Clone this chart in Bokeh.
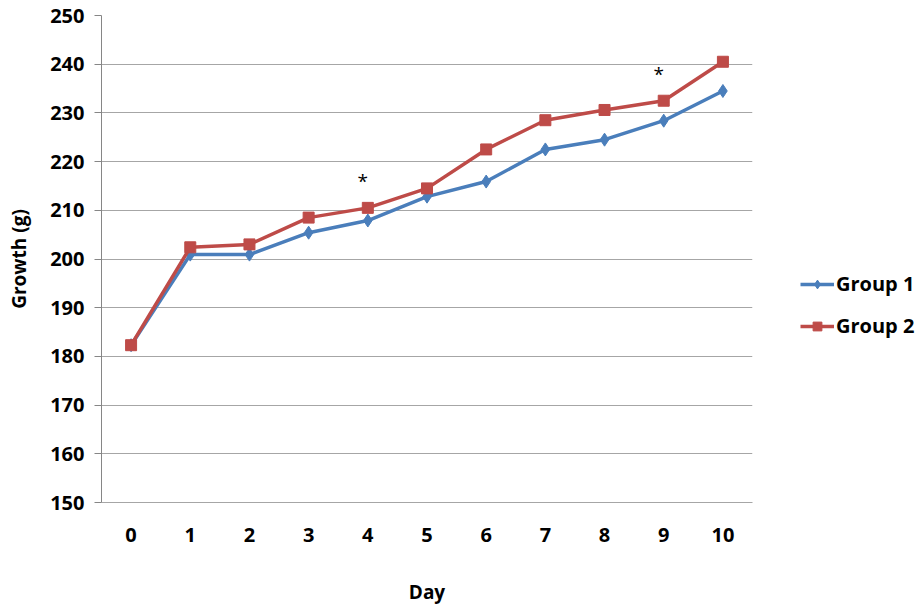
from bokeh.plotting import figure
from bokeh.models import ColumnDataSource, Legend, LegendItem, SingleIntervalTicker, FactorRange
from bokeh.core.properties import value
from bokeh.embed import file_html
from bokeh.resources import INLINE

days = ["0", "1", "2", "3", "4", "5", "6", "7", "8", "9", "10"]
group1 = [182.3, 200.9, 200.9, 205.4, 207.9, 212.8, 215.9, 222.5, 224.5, 228.4, 234.5]
group2 = [182.3, 202.4, 203.0, 208.5, 210.5, 214.5, 222.5, 228.5, 230.6, 232.5, 240.5]
sig_days = ["4", "9"]
sig_mark = ["*", "*"]

FONT = "Open Sans"
GRID = "#a6a6a6"
BLUE = "#4A7EBB"
RED = "#BE4B48"

p = figure(frame_width=651, frame_height=487, x_range=FactorRange(*days), y_range=(150, 250),
           output_backend="svg", toolbar_location=None,
           min_border_left=101, min_border_right=0, min_border_top=15, min_border_bottom=107)
p.outline_line_color = None
p.background_fill_color = "white"
p.border_fill_color = "white"

src = ColumnDataSource(dict(day=days, g1=group1, g2=group2))
l1 = p.line("day", "g1", source=src, color=BLUE, line_width=3.5)
m1 = p.scatter("day", "g1", source=src, marker="diamond", size=13, color=BLUE)
l2 = p.line("day", "g2", source=src, color=RED, line_width=3.5)
m2 = p.scatter("day", "g2", source=src, marker="square", size=11, color=RED)

g2_lookup = dict(zip(days, group2))
sig_src = ColumnDataSource(dict(day=sig_days, y=[g2_lookup[d] for d in sig_days], t=sig_mark))
p.text("day", "y", text="t", source=sig_src, x_offset=-5, y_offset=-27,
       text_align="center", text_baseline="middle", text_font=value(FONT),
       text_font_size="19px", text_color="#000000")

# y axis
p.yaxis.ticker = SingleIntervalTicker(interval=10)
p.yaxis.minor_tick_line_color = None
p.yaxis.major_tick_out = 7
p.yaxis.major_tick_in = 0
p.yaxis.axis_line_color = "#868686"
p.yaxis.major_tick_line_color = "#868686"
p.yaxis.major_label_standoff = 10
p.yaxis.axis_label = "Growth (g)"
p.yaxis.axis_label_standoff = 15

# x axis
p.xaxis.major_tick_line_color = None
p.xaxis.major_tick_out = 0
p.xaxis.axis_line_color = GRID
p.xaxis.major_label_standoff = 25
p.xaxis.axis_label = "Day"
p.xaxis.axis_label_standoff = 34

for ax in (p.xaxis, p.yaxis):
    ax.major_label_text_font = FONT
    ax.major_label_text_font_size = "20px"
    ax.major_label_text_font_style = "bold"
    ax.major_label_text_color = "#000000"
    ax.axis_label_text_font = FONT
    ax.axis_label_text_font_size = "19px"
    ax.axis_label_text_font_style = "bold"
    ax.axis_label_text_color = "#000000"

p.xgrid.grid_line_color = None
p.ygrid.grid_line_color = GRID
p.ygrid.grid_line_width = 1

legend = Legend(items=[LegendItem(label="Group 1", renderers=[l1, m1]),
                       LegendItem(label="Group 2", renderers=[l2, m2])],
                location=(48, 163), orientation="vertical")
legend.border_line_color = None
legend.background_fill_alpha = 0
legend.padding = 0
legend.margin = 0
legend.spacing = 15
legend.glyph_width = 34
legend.glyph_height = 22
legend.label_height = 22
legend.label_standoff = 2
legend.label_text_font = FONT
legend.label_text_font_size = "20px"
legend.label_text_font_style = "bold"
legend.label_text_color = "#000000"
p.add_layout(legend, "right")

open("out.html", "w").write(file_html(p, INLINE))
